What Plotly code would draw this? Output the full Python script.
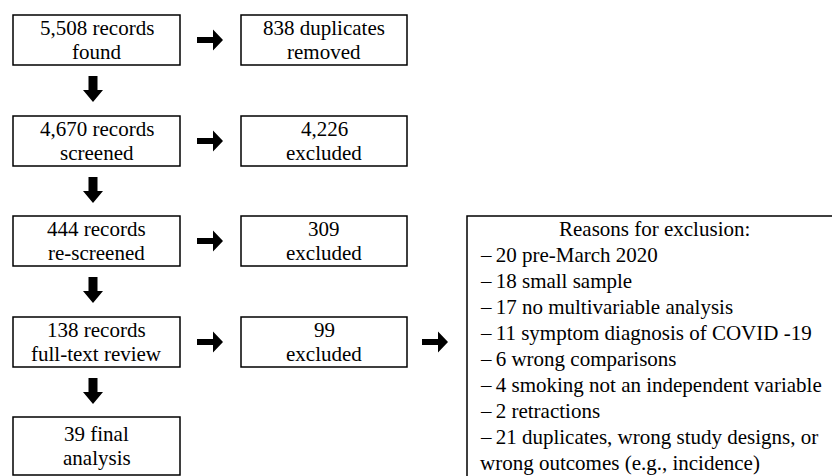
import plotly.graph_objects as go

# ---- content ----
main_steps = [
    ["5,508 records", "found"],
    ["4,670 records", "screened"],
    ["444 records", "re-screened"],
    ["138 records", "full-text review"],
    ["39 final", "analysis"],
]
side_steps = [
    ["838 duplicates", "removed"],
    ["4,226", "excluded"],
    ["309", "excluded"],
    ["99", "excluded"],
]
reasons_title = "Reasons for exclusion:"
reasons_lines = [
    "\u2013\u200920 pre-March 2020",
    "\u2013\u200918 small sample",
    "\u2013\u200917 no multivariable analysis",
    "\u2013\u200911 symptom diagnosis of COVID -19",
    "\u2013\u20096 wrong comparisons",
    "\u2013\u20094 smoking not an independent variable",
    "\u2013\u20092 retractions",
    "\u2013\u200921 duplicates, wrong study designs, or",
    "wrong outcomes (e.g., incidence)",
]

# ---- geometry (pixels) ----
W, H = 840, 476
OFF = 8  # page body margin compensation
main_x = (13, 180)
side_x = (241, 407)
row_y = [(15, 65), (116, 166), (216, 266), (317, 367), (417, 475)]
reasons_box = (467, 216, 842, 482)
FONT = "Liberation Serif"
FS = 21

fig = go.Figure()
shapes = []
annotations = []

def box(x0, y0, x1, y1):
    shapes.append(dict(type="rect", x0=x0, y0=y0, x1=x1, y1=y1, xref="x", yref="y",
                       line=dict(color="black", width=1.5), fillcolor="white", layer="below"))

def text(x, y, s, anchor="center"):
    annotations.append(dict(x=x, y=y, xref="x", yref="y", text=s, showarrow=False,
                            xanchor=anchor, yanchor="middle",
                            font=dict(family=FONT, size=FS, color="black")))

def right_arrow(x0, yc):
    p = (f"M {x0},{yc-3} L {x0+16},{yc-3} L {x0+16},{yc-10.5} L {x0+26},{yc} "
         f"L {x0+16},{yc+10.5} L {x0+16},{yc+3} L {x0},{yc+3} Z")
    shapes.append(dict(type="path", path=p, xref="x", yref="y",
                       fillcolor="black", line=dict(color="black", width=0)))

def down_arrow(xc, y0):
    p = (f"M {xc-4.5},{y0} L {xc+4.5},{y0} L {xc+4.5},{y0+14} L {xc+10},{y0+14} "
         f"L {xc},{y0+26} L {xc-10},{y0+14} L {xc-4.5},{y0+14} Z")
    shapes.append(dict(type="path", path=p, xref="x", yref="y",
                       fillcolor="black", line=dict(color="black", width=0)))

for i, lines in enumerate(main_steps):
    y0, y1 = row_y[i]
    box(main_x[0], y0, main_x[1], y1)
    yc = (y0 + y1) / 2
    cx = (main_x[0] + main_x[1]) / 2
    text(cx, yc - 12, lines[0])
    text(cx, yc + 12, lines[1])
    if i < len(main_steps) - 1:
        down_arrow(93, y1 + 11)

for i, lines in enumerate(side_steps):
    y0, y1 = row_y[i]
    box(side_x[0], y0, side_x[1], y1)
    yc = (y0 + y1) / 2
    cx = (side_x[0] + side_x[1]) / 2
    text(cx, yc - 12, lines[0])
    text(cx, yc + 12, lines[1])
    right_arrow(197, yc)

right_arrow(422, (row_y[3][0] + row_y[3][1]) / 2)

bx0, by0, bx1, by1 = reasons_box
box(bx0, by0, bx1, by1)
text(654, 229, reasons_title)
for j, s in enumerate(reasons_lines):
    text(478, 255 + 26 * j, s, anchor="left")

fig.update_layout(
    width=W, height=H, margin=dict(l=0, r=0, t=0, b=0),
    paper_bgcolor="white", plot_bgcolor="white",
    xaxis=dict(range=[OFF, W + OFF], visible=False, fixedrange=True),
    yaxis=dict(range=[H + OFF, OFF], visible=False, fixedrange=True),
    shapes=shapes, annotations=annotations, showlegend=False,
)
fig.write_html("out.html")
